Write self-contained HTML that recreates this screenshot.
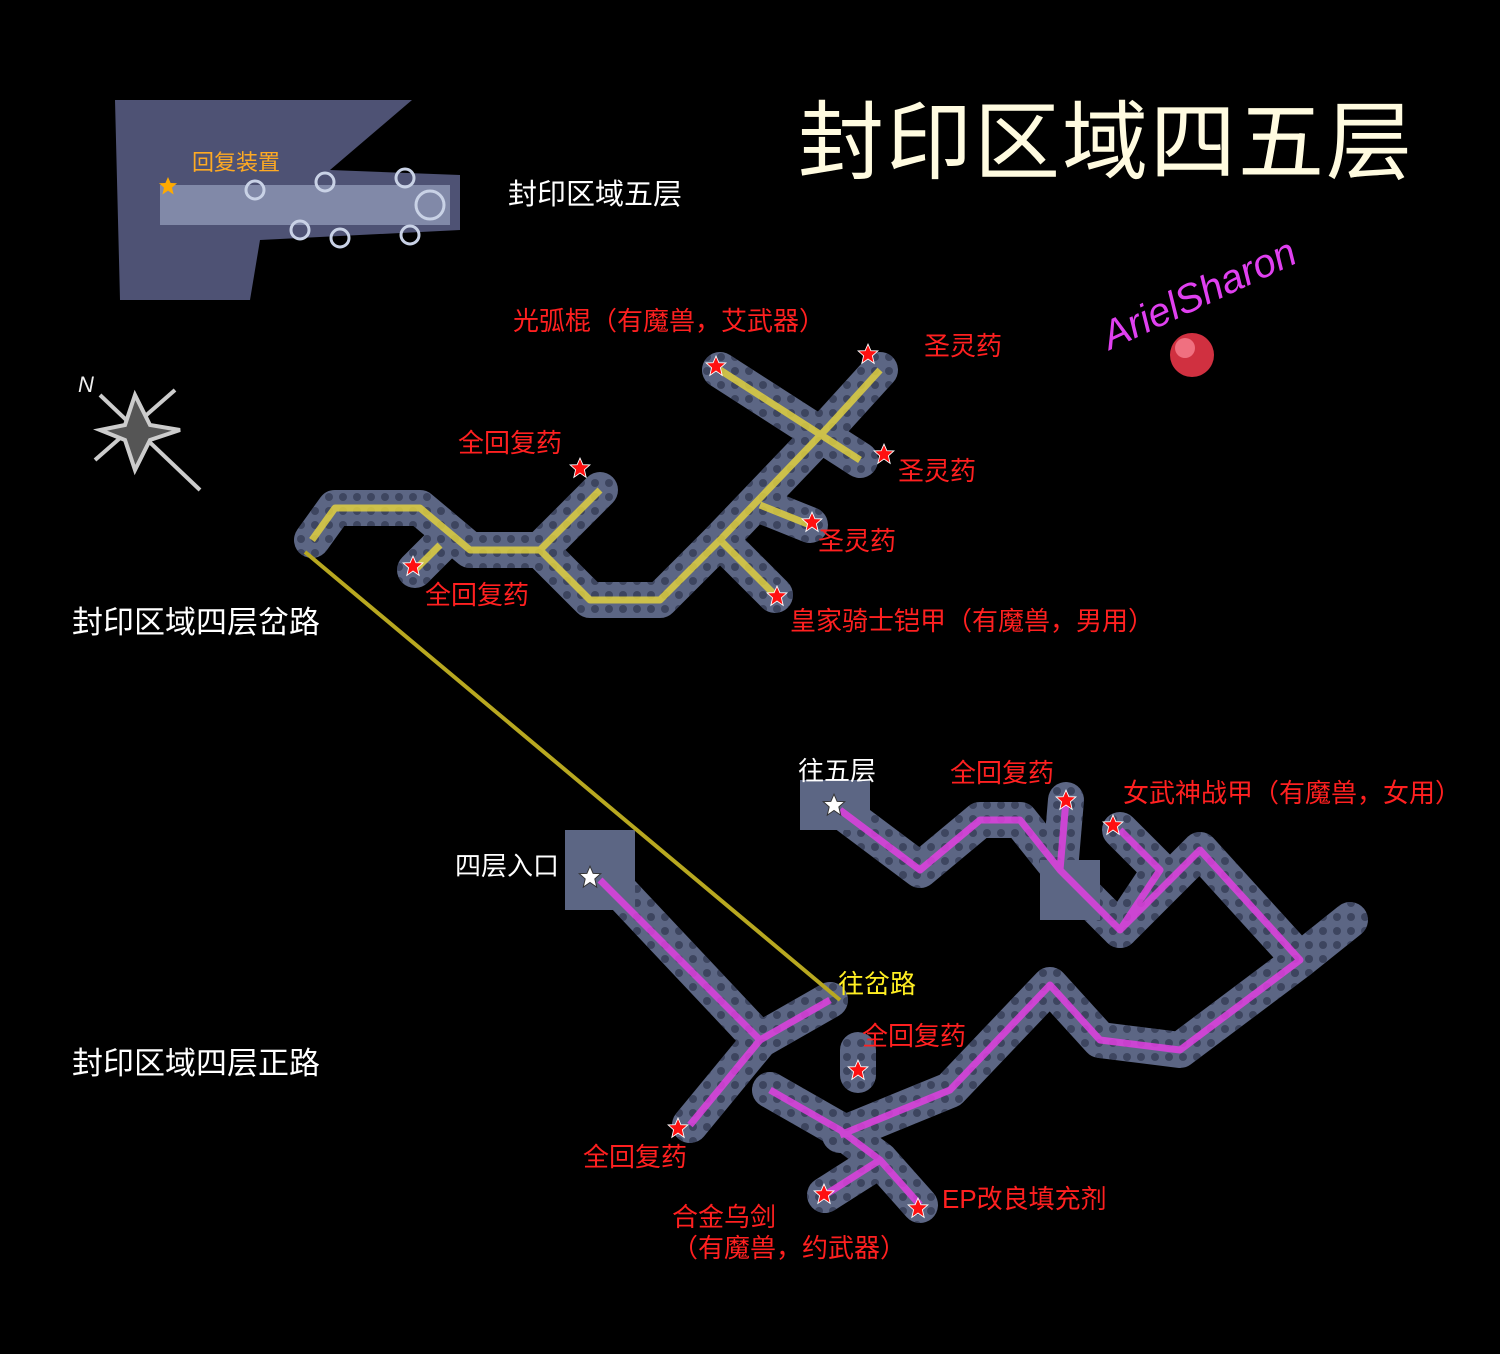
<!DOCTYPE html>
<html><head><meta charset="utf-8"><style>
html,body{margin:0;padding:0;background:#000;}
svg{display:block;}
text{font-family:"Liberation Sans","Noto Sans CJK SC",sans-serif;}
</style></head><body>
<svg width="1500" height="1354" viewBox="0 0 1500 1354" xmlns="http://www.w3.org/2000/svg">
<defs>
<symbol id="st" viewBox="-10 -10 20 20"><polygon points="0,-9 2.6,-3 9,-2.8 4,1.6 5.6,8.5 0,4.6 -5.6,8.5 -4,1.6 -9,-2.8 -2.6,-3" /></symbol>
<pattern id="dots" width="14" height="14" patternUnits="userSpaceOnUse"><circle cx="7" cy="7" r="4" fill="#2a3048"/></pattern>
</defs>
<rect width="1500" height="1354" fill="#000"/>
<polygon points="115,100 412,100 330,170 460,175 460,230 260,240 250,300 120,300" fill="#4e5274"/>
<rect x="160" y="185" width="290" height="40" fill="#8e97b5" opacity="0.8"/>
<g fill="none" stroke="#c9d2e6" stroke-width="3">
<circle cx="325" cy="182" r="9"/><circle cx="255" cy="190" r="9"/><circle cx="300" cy="230" r="9"/><circle cx="340" cy="238" r="9"/><circle cx="405" cy="178" r="9"/><circle cx="410" cy="235" r="9"/><circle cx="430" cy="205" r="14"/>
</g>
<text x="192" y="170" font-size="22" fill="#ffaa22">回复装置</text>
<use href="#st" x="158" y="176" width="20" height="20" fill="#ffaa00"/>
<text x="508" y="204" font-size="29" fill="#fff">封印区域五层</text>
<text x="798" y="172" font-size="86" fill="#fffbe0" letter-spacing="2">封印区域四五层</text>
<text x="1110" y="350" font-size="40" fill="#e040f0" font-style="italic" transform="rotate(-25 1110 350)">ArielSharon</text>
<circle cx="1192" cy="355" r="22" fill="#d03040"/><circle cx="1185" cy="348" r="10" fill="#f07080"/>
<g stroke="#ccc" stroke-width="4" fill="none">
<line x1="100" y1="395" x2="200" y2="490"/><line x1="95" y1="460" x2="175" y2="390"/>
<polygon points="135,395 150,425 180,430 150,440 135,470 125,440 100,430 125,425" fill="#555"/>
</g>
<text x="78" y="392" font-size="22" fill="#eee" font-style="italic">N</text>
<g id="cor" fill="none" stroke-width="36" stroke-linejoin="round" stroke-linecap="round">
<polyline points="312,540 335,508 420,508 470,550 540,550 600,490"/>
<polyline points="540,550 590,600 660,600 720,540 830,425 880,370"/>
<polyline points="720,370 860,460"/><polyline points="760,505 810,525"/><polyline points="720,540 775,595"/><polyline points="440,545 415,570"/>
<polyline points="600,870 760,1040 690,1125"/><polyline points="760,1040 830,1000"/>
<polyline points="770,1090 840,1130 880,1160 920,1205"/><polyline points="880,1160 825,1195"/><polyline points="858,1050 858,1075"/>
<polyline points="840,1135 950,1090 1050,985 1100,1040 1180,1050 1300,960 1200,850 1120,930 1060,870 1020,820 980,820 920,870 840,810"/>
<polyline points="1060,870 1066,800"/><polyline points="1120,930 1160,870 1120,830"/><polyline points="1300,960 1350,920"/>
</g>
<use href="#cor" stroke="#5c6684"/>
<use href="#cor" stroke="url(#dots)" opacity="0.6"/>
<g fill="#5c6684"><rect x="800" y="780" width="70" height="50"/><rect x="565" y="830" width="70" height="80"/><rect x="1040" y="860" width="60" height="60"/></g>
<line x1="305" y1="552" x2="840" y2="1000" stroke="#b8a820" stroke-width="4"/>
<g fill="none" stroke="#e0d040" stroke-width="7" stroke-linejoin="round" opacity="0.85">
<polyline points="312,540 335,508 420,508 470,550 540,550 600,490"/>
<polyline points="540,550 590,600 660,600 720,540 830,425 880,370"/>
<polyline points="720,370 860,460"/><polyline points="760,505 810,525"/><polyline points="720,540 775,595"/><polyline points="440,545 415,570"/>
</g>
<g fill="none" stroke="#e040e0" stroke-width="7" stroke-linejoin="round" opacity="0.85">
<polyline points="600,880 760,1040 690,1125"/><polyline points="760,1040 830,1000"/>
<polyline points="770,1090 840,1130 880,1160 920,1205"/><polyline points="880,1160 825,1195"/>
<polyline points="840,1135 950,1090 1050,985 1100,1040 1180,1050 1300,960 1200,850 1120,930 1060,870 1020,820 980,820 920,870 840,810"/>
<polyline points="1060,870 1066,800"/><polyline points="1120,930 1160,870 1120,830"/>
</g>
<g fill="#ff1010" stroke="#fff" stroke-width="0.8">
<use href="#st" x="705" y="355" width="22" height="22"/><use href="#st" x="857" y="343" width="22" height="22"/>
<use href="#st" x="569" y="457" width="22" height="22"/><use href="#st" x="873" y="443" width="22" height="22"/>
<use href="#st" x="801" y="511" width="22" height="22"/><use href="#st" x="402" y="555" width="22" height="22"/>
<use href="#st" x="766" y="585" width="22" height="22"/><use href="#st" x="1055" y="789" width="22" height="22"/>
<use href="#st" x="1102" y="814" width="22" height="22"/><use href="#st" x="847" y="1059" width="22" height="22"/>
<use href="#st" x="667" y="1117" width="22" height="22"/><use href="#st" x="813" y="1183" width="22" height="22"/>
<use href="#st" x="907" y="1197" width="22" height="22"/>
</g>
<g fill="#fff" stroke="#333" stroke-width="0.8">
<use href="#st" x="822" y="793" width="24" height="24"/><use href="#st" x="578" y="865" width="24" height="24"/>
</g>
<g font-size="26" fill="#ff2020">
<text x="513" y="330">光弧棍（有魔兽，艾武器）</text>
<text x="924" y="355">圣灵药</text>
<text x="458" y="452">全回复药</text>
<text x="898" y="480">圣灵药</text>
<text x="818" y="550">圣灵药</text>
<text x="425" y="604">全回复药</text>
<text x="790" y="630">皇家骑士铠甲（有魔兽，男用）</text>
<text x="950" y="782">全回复药</text>
<text x="1123" y="802">女武神战甲（有魔兽，女用）</text>
<text x="862" y="1045">全回复药</text>
<text x="583" y="1166">全回复药</text>
<text x="942" y="1208">EP改良填充剂</text>
<text x="672" y="1226">合金乌剑</text>
<text x="672" y="1257">（有魔兽，约武器）</text>
</g>
<g font-size="31" fill="#fff">
<text x="72" y="633">封印区域四层岔路</text>
<text x="72" y="1074">封印区域四层正路</text>
</g>
<g font-size="26" fill="#fff">
<text x="798" y="780">往五层</text>
<text x="455" y="875">四层入口</text>
</g>
<text x="838" y="993" font-size="26" fill="#ffee22">往岔路</text>
</svg>
</body></html>
